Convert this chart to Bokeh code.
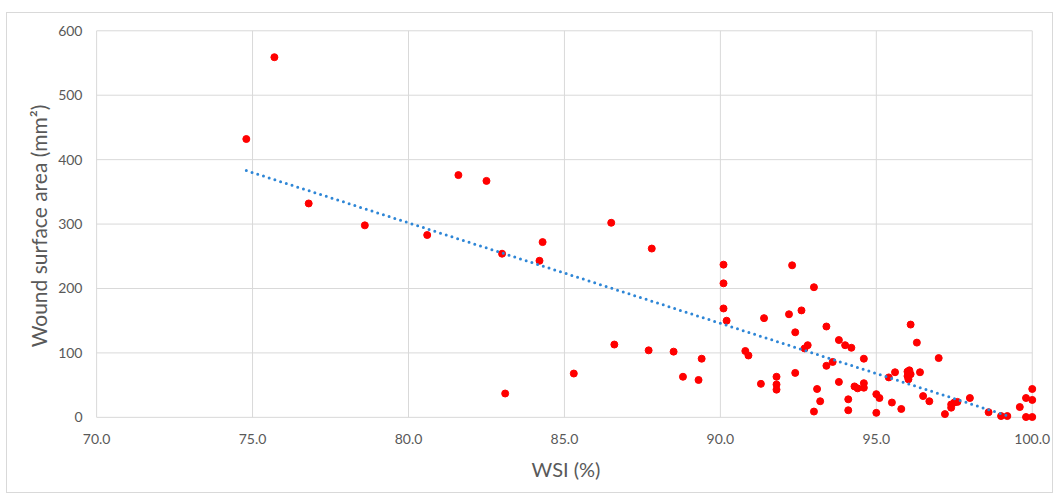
from bokeh.plotting import figure
from bokeh.embed import file_html
from bokeh.resources import INLINE
from bokeh.models import Range1d, FixedTicker, ColumnDataSource, Title

# WSI (%) and wound surface area (mm²)
wsi = [74.8, 75.7, 76.8, 78.6, 80.6, 81.6, 82.5, 83.0, 83.1, 84.2, 84.3, 85.3,
       86.5, 86.6, 87.7, 87.8, 88.5, 88.8, 89.3, 89.4, 90.1, 90.1, 90.1, 90.2,
       90.8, 90.9, 91.3, 91.4, 91.8, 91.8, 91.8, 92.2, 92.3, 92.4, 92.4, 92.6,
       92.7, 92.8, 93.0, 93.0, 93.1, 93.2, 93.4, 93.4, 93.6, 93.8, 93.8, 94.0,
       94.1, 94.1, 94.2, 94.3, 94.4, 94.6, 94.6, 94.6, 95.0, 95.1, 95.0, 95.4,
       95.5, 95.6, 95.8, 96.0, 96.06, 96.0, 96.1, 96.4, 96.03, 96.1, 96.3, 96.5,
       96.7, 97.0, 97.2, 97.4, 97.5, 97.6, 97.4, 98.0, 98.6, 99.0, 99.2, 99.6,
       99.8, 100.0, 100.0, 99.8, 100.0]
area = [432, 559, 332, 298, 283, 376, 367, 254, 37, 243, 272, 68,
        302, 113, 104, 262, 102, 63, 58, 91, 237, 208, 169, 150,
        103, 96, 52, 154, 63, 51, 43, 160, 236, 132, 69, 166,
        107, 112, 202, 9, 44, 25, 141, 80, 86, 120, 55, 112,
        28, 11, 108, 48, 45, 53, 46, 91, 36, 30, 7, 62,
        23, 70, 13, 71, 73, 64, 67, 70, 59, 144, 116, 33,
        25, 92, 5, 15, 23, 24, 20, 30, 8, 2, 2, 16,
        30, 44, 27, 0.5, 0.5]

# linear trend line endpoints
trend_x = [74.8, 99.3]
trend_y = [383, 1]

x_ticks = [70, 75, 80, 85, 90, 95, 100]
y_ticks = [0, 100, 200, 300, 400, 500, 600]

FONT = "Lato"
GREY = "#595959"
GRID = "#D9D9D9"

# ranges padded slightly so markers on the edges are not clipped
p = figure(width=1045, height=479, output_backend="svg", toolbar_location=None,
           x_range=Range1d(69.9, 100.2), y_range=Range1d(-8, 602),
           min_border_left=86, min_border_right=14, min_border_top=16,
           min_border_bottom=70, background_fill_color="white",
           border_fill_color="white")
p.styles = {"margin-top": "13px", "margin-left": "7px", "outline": "1px solid #D9D9D9"}
p.outline_line_color = None
p.xgrid.visible = False
p.ygrid.visible = False

# grid drawn only over the 70–100 / 0–600 area
p.segment(x0=x_ticks, x1=x_ticks, y0=[y_ticks[0]] * len(x_ticks),
          y1=[y_ticks[-1]] * len(x_ticks), line_color=GRID, line_width=1)
p.segment(x0=[x_ticks[0]] * len(y_ticks), x1=[x_ticks[-1]] * len(y_ticks),
          y0=y_ticks, y1=y_ticks, line_color=GRID, line_width=1)

p.xaxis.ticker = FixedTicker(ticks=x_ticks)
p.yaxis.ticker = FixedTicker(ticks=y_ticks)
p.xaxis.major_label_overrides = {t: f"{t:.1f}" for t in x_ticks}

for ax in (p.xaxis, p.yaxis):
    ax.axis_line_color = None
    ax.major_tick_line_color = None
    ax.minor_tick_line_color = None
    ax.major_label_text_font = FONT
    ax.major_label_text_font_size = "14px"
    ax.major_label_text_color = GREY
    ax.axis_label_text_font = FONT
    ax.axis_label_text_font_style = "normal"
    ax.axis_label_text_color = GREY

p.xaxis.axis_label = "WSI (%)"
p.xaxis.axis_label_text_font_size = "20px"
p.xaxis.major_label_standoff = 5
p.yaxis.major_label_standoff = 5
p.xaxis.axis_label_standoff = 10

p.add_layout(Title(text="Wound surface area (mm²)", align="center", offset=0,
                   text_font=FONT, text_font_size="21px", text_color=GREY,
                   text_font_style="normal"), "left")

src = ColumnDataSource(dict(x=wsi, y=area))
p.scatter("x", "y", source=src, size=7, fill_color="#FF0000", line_color="#FF0000")

p.line(trend_x, trend_y, line_color="#2E86D6", line_width=3, line_dash="0 6",
       line_cap="round")

open("out.html", "w").write(file_html(p, INLINE))
